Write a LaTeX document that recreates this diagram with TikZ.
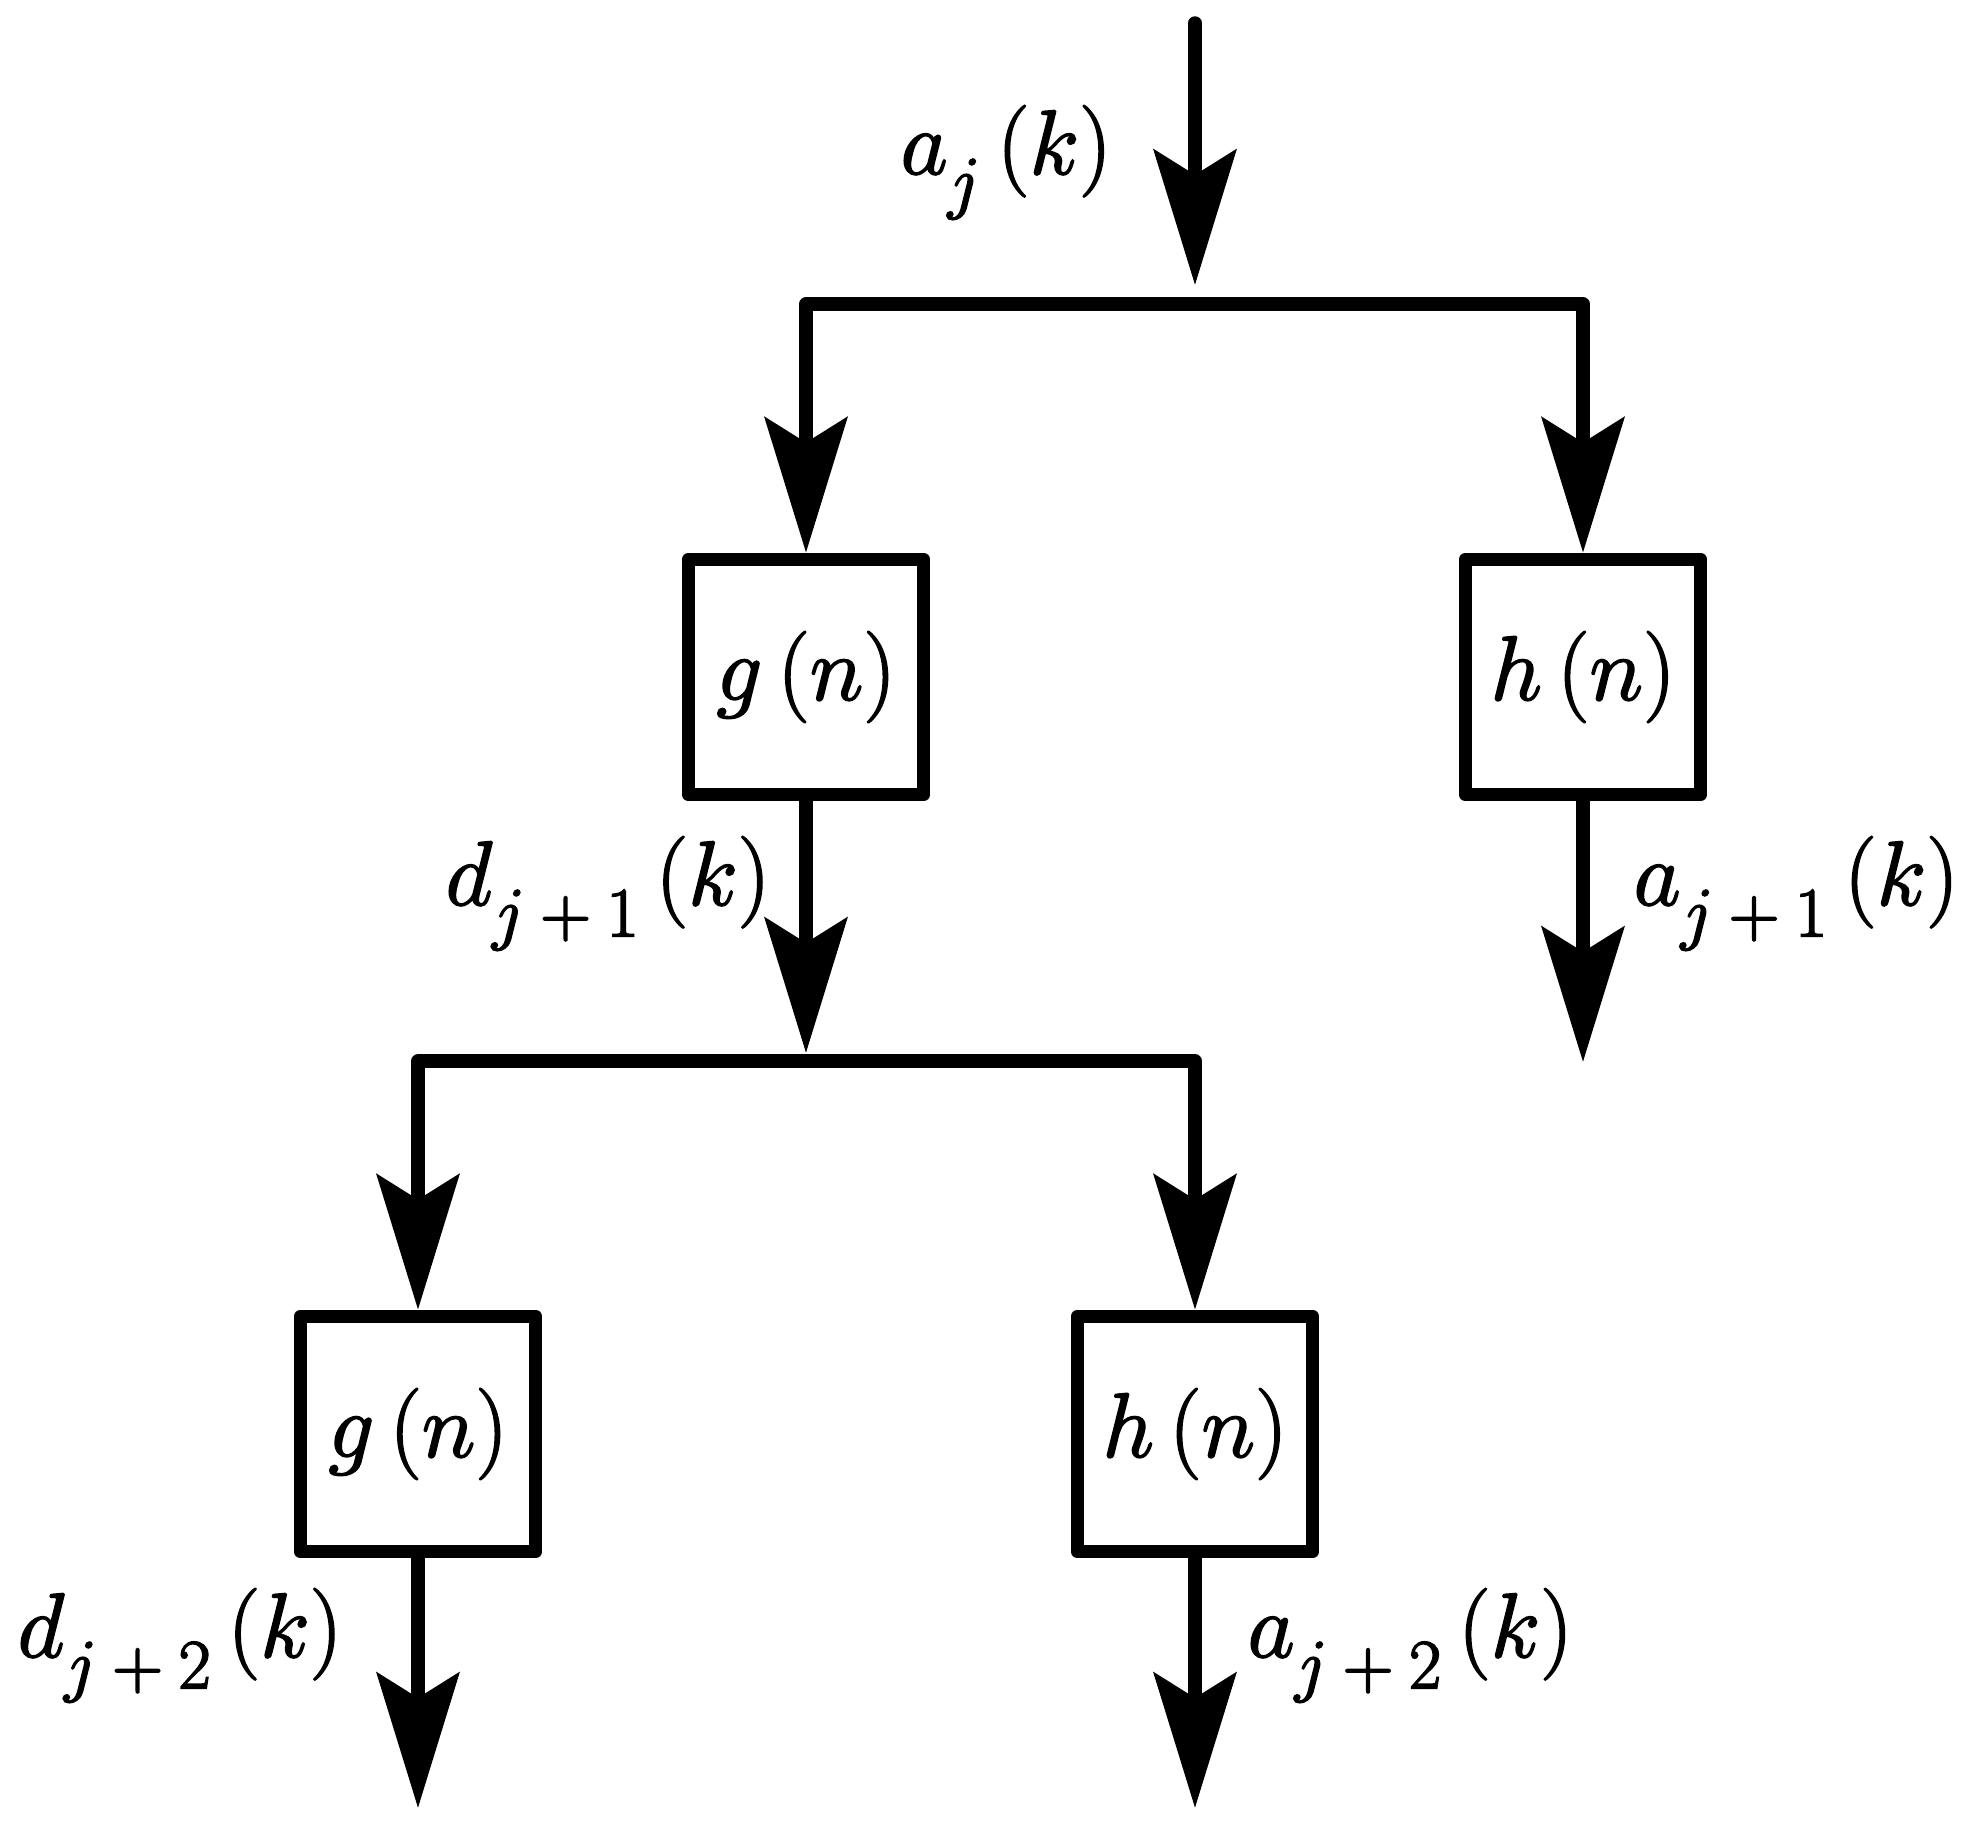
\RequirePackage{fix-cm}
\documentclass[tikz,border=0pt]{standalone}
\usetikzlibrary{arrows.meta}

% lowered, larger subscript, spaced as in the drawing
\newcommand{\idx}[1]{_{\lower5pt\hbox{\fontsize{20}{24}\selectfont$#1$}}}
% slightly heavier glyphs
\newcommand{\heavyon}{\special{pdf:literal direct 2 Tr 0.5 w}}
\newcommand{\heavyoff}{\special{pdf:literal direct 0 Tr}}

\tikzset{
    filt/.style={draw, line width=0.135cm, minimum size=2.35cm, inner sep=0pt,
        line join=round, font=\fontsize{26}{31}\selectfont,
        execute at begin node=\heavyon, execute at end node=\heavyoff},
    sig/.style={line width=0.135cm, line join=round, line cap=round,
        -{Stealth[length=1.35cm, width=0.82cm, inset=0.25cm]}},
    lab/.style={anchor=base west, inner sep=0pt, font=\fontsize{26}{31}\selectfont,
        execute at begin node=\heavyon, execute at end node=\heavyoff}
}

\begin{document}
\begin{tikzpicture}[x=0.01cm, y=-0.01cm]
\useasboundingbox (0,0) rectangle (1974,1832);

% filter boxes
\node[filt] (g1) at (806,677)  {$g\,(n)$};
\node[filt] (h1) at (1583,677) {$h\,(n)$};
\node[filt] (g2) at (418,1434) {$g\,(n)$};
\node[filt] (h2) at (1195,1434) {$h\,(n)$};

% split points and free ends
\coordinate (in) at (1195,23);
\coordinate (t1) at (1195,285);
\coordinate (b1) at (1195,304);
\coordinate (t2) at (806,1053);
\coordinate (b2) at (806,1061);
\coordinate (o1) at (1583,1062);
\coordinate (o2) at (418,1808);
\coordinate (o3) at (1195,1808);

% signal lines
\draw[sig] (in) -- (t1);
\draw[sig] (b1) -| (g1.north);
\draw[sig] (b1) -| (h1.north);
\draw[sig] (g1.south) -- (t2);
\draw[sig] (h1.south) -- (o1);
\draw[sig] (b2) -| (g2.north);
\draw[sig] (b2) -| (h2.north);
\draw[sig] (g2.south) -- (o2);
\draw[sig] (h2.south) -- (o3);

% labels
\node[lab] (la0) at (900,174)   {$a\idx{j}\,(k)$};
\node[lab] (ld1) at (445,905)   {$d\idx{j+1}\,(k)$};
\node[lab] (la1) at (1633,905)  {$a\idx{j+1}\,(k)$};
\node[lab] (ld2) at (17,1657)   {$d\idx{j+2}\,(k)$};
\node[lab] (la2) at (1247,1657) {$a\idx{j+2}\,(k)$};
\end{tikzpicture}
\end{document}
